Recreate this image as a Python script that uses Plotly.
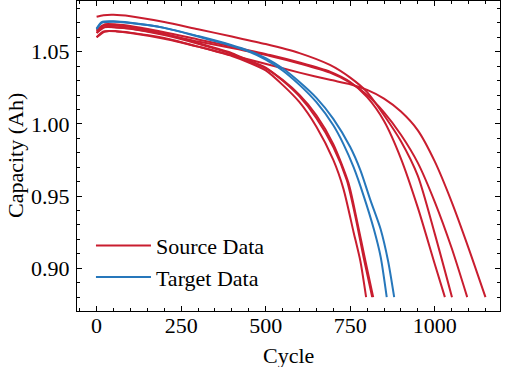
import plotly.graph_objects as go

# ---- data (cycle, capacity) ----
src_r1_cycle = [0, 20, 50, 100, 200, 300, 400, 500, 600, 690, 750, 800, 850, 900, 950, 1000, 1051]
src_r1_cap = [1.0742, 1.0752, 1.0755, 1.0745, 1.0705, 1.0655, 1.0605, 1.0553, 1.0490, 1.0408, 1.0320, 1.0220, 1.0060, 0.9880, 0.9640, 0.9240, 0.8800]

src_r2_cycle = [0, 25, 60, 100, 200, 300, 400, 513, 600, 690, 750, 800, 850, 900, 950, 1000, 1030]
src_r2_cap = [1.0650, 1.0690, 1.0688, 1.0678, 1.0635, 1.0585, 1.0535, 1.0477, 1.0425, 1.0362, 1.0290, 1.0185, 1.0020, 0.9760, 0.9420, 0.9030, 0.8800]

src_r3_cycle = [0, 25, 60, 100, 200, 300, 400, 513, 600, 690, 750, 800, 850, 900, 950, 1000, 1050, 1096]
src_r3_cap = [1.0630, 1.0670, 1.0668, 1.0660, 1.0620, 1.0570, 1.0525, 1.0470, 1.0418, 1.0355, 1.0285, 1.0200, 1.0080, 0.9925, 0.9730, 0.9460, 0.9140, 0.8800]

src_r4_cycle = [0, 25, 60, 100, 200, 300, 400, 513, 600, 690, 750, 800, 850, 900, 950, 1000, 1050, 1100, 1150]
src_r4_cap = [1.0600, 1.0640, 1.0640, 1.0630, 1.0590, 1.0535, 1.0475, 1.0408, 1.0355, 1.0305, 1.0275, 1.0235, 1.0175, 1.0085, 0.9955, 0.9740, 0.9460, 0.9140, 0.8800]

src_l1_cycle = [0, 20, 60, 100, 200, 300, 400, 450, 500, 550, 600, 650, 700, 730, 760, 780, 797]
src_l1_cap = [1.0600, 1.0640, 1.0642, 1.0632, 1.0595, 1.0535, 1.0470, 1.0425, 1.0370, 1.0270, 1.0150, 0.9980, 0.9750, 0.9550, 0.9250, 0.9050, 0.8800]

src_l2_cycle = [0, 20, 60, 100, 200, 300, 400, 450, 500, 550, 600, 650, 700, 740, 767, 790, 815]
src_l2_cap = [1.0640, 1.0680, 1.0680, 1.0670, 1.0625, 1.0560, 1.0490, 1.0440, 1.0390, 1.0300, 1.0190, 1.0040, 0.9840, 0.9610, 0.9340, 0.9070, 0.8800]

src_l3_cycle = [0, 20, 60, 100, 200, 300, 400, 450, 500, 550, 600, 650, 700, 745, 770, 795, 818]
src_l3_cap = [1.0630, 1.0668, 1.0668, 1.0658, 1.0615, 1.0555, 1.0485, 1.0435, 1.0385, 1.0305, 1.0200, 1.0060, 0.9860, 0.9590, 0.9330, 0.9050, 0.8800]

tgt_b1_cycle = [0, 15, 50, 100, 200, 300, 400, 450, 500, 550, 600, 650, 700, 730, 760, 790, 820, 840, 858]
tgt_b1_cap = [1.0660, 1.0705, 1.0710, 1.0700, 1.0665, 1.0605, 1.0540, 1.0500, 1.0445, 1.0370, 1.0270, 1.0150, 0.9990, 0.9860, 0.9700, 0.9500, 0.9270, 0.9080, 0.8800]

tgt_b2_cycle = [0, 15, 50, 100, 200, 300, 400, 450, 500, 550, 600, 650, 700, 750, 780, 810, 840, 862, 880]
tgt_b2_cap = [1.0655, 1.0700, 1.0707, 1.0698, 1.0665, 1.0608, 1.0545, 1.0507, 1.0455, 1.0385, 1.0290, 1.0180, 1.0035, 0.9840, 0.9680, 0.9470, 0.9270, 0.9050, 0.8800]

source_series = [
    (src_r1_cycle, src_r1_cap), (src_r2_cycle, src_r2_cap), (src_r3_cycle, src_r3_cap),
    (src_r4_cycle, src_r4_cap), (src_l1_cycle, src_l1_cap), (src_l2_cycle, src_l2_cap),
    (src_l3_cycle, src_l3_cap),
]
target_series = [(tgt_b1_cycle, tgt_b1_cap), (tgt_b2_cycle, tgt_b2_cap)]

x_ticks = [0, 250, 500, 750, 1000]
y_ticks = [0.90, 0.95, 1.00, 1.05]
y_tick_text = ["0.90", "0.95", "1.00", "1.05"]

RED = "#c91d2f"
BLUE = "#2677bb"
FONT = "Liberation Serif"
FS = 22

fig = go.Figure()
for i, (cx, cy) in enumerate(source_series):
    fig.add_trace(go.Scatter(
        x=cx, y=cy, mode="lines", name="Source Data", legendgroup="src",
        showlegend=(i == 0), line=dict(color=RED, width=2, shape="spline", smoothing=0.7)))
for i, (cx, cy) in enumerate(target_series):
    fig.add_trace(go.Scatter(
        x=cx, y=cy, mode="lines", name="Target Data", legendgroup="tgt",
        showlegend=(i == 0), line=dict(color=BLUE, width=2, shape="spline", smoothing=0.7)))

axis_common = dict(
    showgrid=False, zeroline=False, showline=True, linecolor="black", linewidth=1.2,
    mirror="allticks", ticks="inside", ticklen=5, tickwidth=1, tickcolor="black",
    tickfont=dict(family=FONT, size=FS, color="black"), automargin=False,
)

fig.update_xaxes(
    range=[-58, 1193], tickvals=x_ticks, ticktext=[str(v) for v in x_ticks],
    minor=dict(dtick=50, tick0=0, ticks="inside", ticklen=3, tickcolor="black", tickwidth=1),
    ticklabelstandoff=-6,
    **axis_common)
fig.update_yaxes(
    range=[0.8704, 1.0851], tickvals=y_ticks, ticktext=y_tick_text,
    minor=dict(dtick=0.01, tick0=0.9, ticks="inside", ticklen=3, tickcolor="black", tickwidth=1),
    ticklabelstandoff=2,
    **axis_common)

fig.update_layout(
    width=505, height=367,
    margin=dict(l=77, r=5, t=1, b=56),
    paper_bgcolor="white", plot_bgcolor="white",
    showlegend=True,
    legend=dict(x=0.033, y=0.04, xanchor="left", yanchor="bottom",
                bgcolor="rgba(0,0,0,0)", itemwidth=55,
                font=dict(family=FONT, size=FS, color="black"), tracegroupgap=0),
    annotations=[
        dict(text="Cycle", xref="paper", yref="paper", x=0.5, y=0, yshift=-44,
             xanchor="center", yanchor="middle", showarrow=False,
             font=dict(family=FONT, size=FS, color="black")),
        dict(text="Capacity (Ah)", xref="paper", yref="paper", x=0, y=0.5, xshift=-62,
             xanchor="center", yanchor="middle", textangle=-90, showarrow=False,
             font=dict(family=FONT, size=FS, color="black")),
    ],
)

fig.write_html("out.html", config={"displayModeBar": False},
               post_script="document.body.style.margin='0px';")
